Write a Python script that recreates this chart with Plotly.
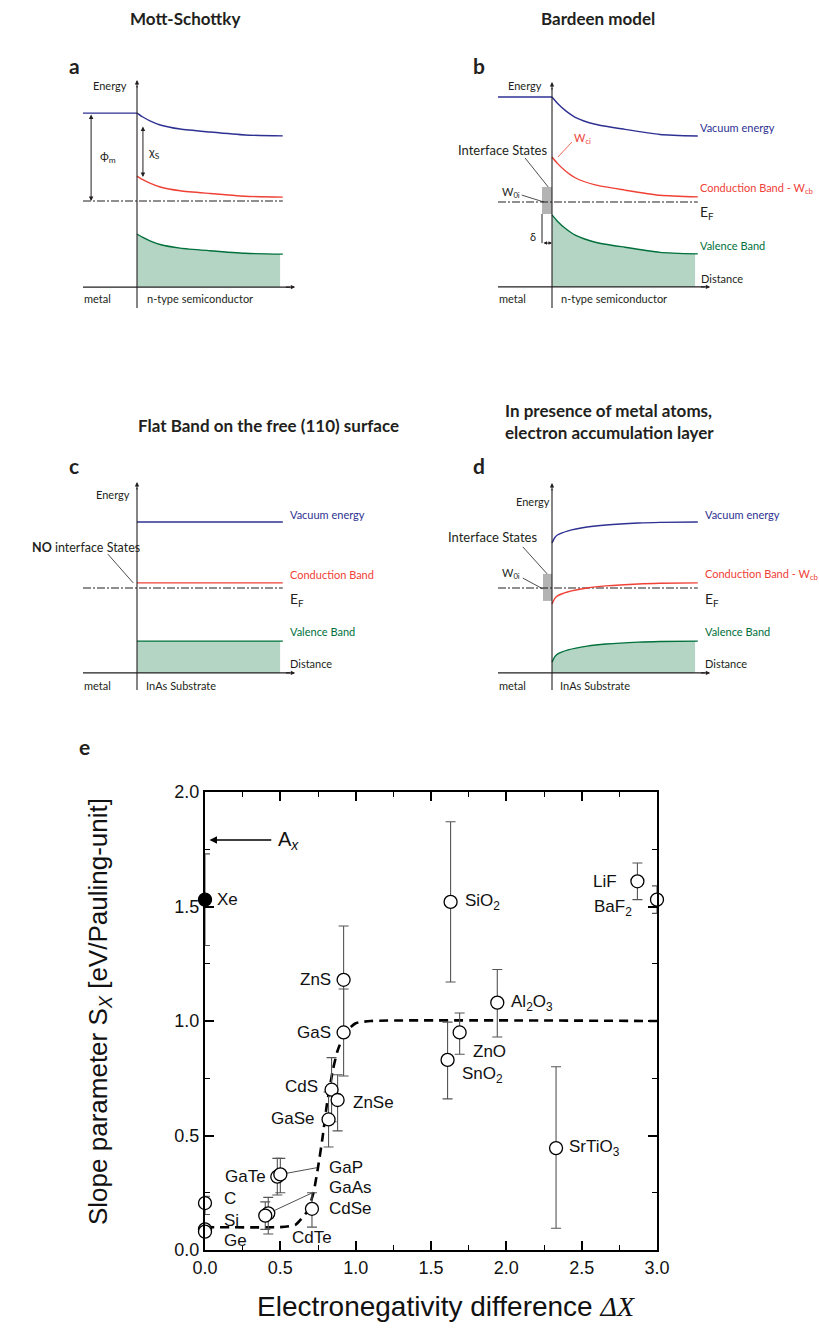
import plotly.graph_objects as go

W, H = 819, 1330

# ---------------- Panel e data ----------------
materials = ["Xe", "C", "Si", "Ge", "GaTe", "GaP", "GaAs", "CdTe", "CdSe", "GaSe", "CdS",
             "ZnSe", "GaS", "ZnS", "SiO2", "SnO2", "ZnO", "Al2O3", "SrTiO3", "LiF", "BaF2"]
delta_x = [0.0, 0.0, 0.0, 0.0, 0.48, 0.50, 0.42, 0.40, 0.71, 0.82, 0.84,
           0.88, 0.92, 0.92, 1.63, 1.61, 1.69, 1.94, 2.33, 2.87, 3.00]
slope_s = [1.53, 0.205, 0.09, 0.08, 0.32, 0.33, 0.16, 0.15, 0.18, 0.57, 0.70,
           0.655, 0.95, 1.18, 1.52, 0.83, 0.95, 1.08, 0.445, 1.61, 1.53]
err_plus = [0.20, 0.03, 0.02, 0.02, 0.08, 0.07, 0.07, 0.06, 0.07, 0.12, 0.14,
            0.11, 0.19, 0.235, 0.35, 0.165, 0.085, 0.145, 0.355, 0.08, 0.06]
err_minus = [0.20, 0.05, 0.02, 0.02, 0.08, 0.08, 0.09, 0.06, 0.08, 0.12, 0.14,
             0.135, 0.19, 0.235, 0.35, 0.17, 0.095, 0.15, 0.35, 0.08, 0.06]
filled = ["Xe"]

theory_x = [0.0, 0.5, 0.6, 0.68, 0.72, 0.75, 0.78, 0.81, 0.85, 0.88, 0.93, 1.0, 1.1, 3.0]
theory_y = [0.10, 0.10, 0.11, 0.17, 0.25, 0.36, 0.49, 0.64, 0.79, 0.87, 0.95, 0.99, 1.0, 1.0]

x_ticks = [0.0, 0.5, 1.0, 1.5, 2.0, 2.5, 3.0]
y_ticks = [0.0, 0.5, 1.0, 1.5, 2.0]
A_x_value = 1.79

# ---------------- Schematic band levels (energy rel. to E_F, arbitrary units) ----------------
# (value at interface, value in bulk)
bands = {
    "a": {"metal": 2.93, "vac": (2.93, 2.17), "cb": (0.83, 0.13), "vb": (-1.10, -1.77)},
    "b": {"metal": 3.50, "vac": (3.50, 2.20), "cb": (1.50, 0.17), "vb": (-0.43, -1.73)},
    "c": {"metal": None, "vac": (2.20, 2.20), "cb": (0.17, 0.17), "vb": (-1.77, -1.77)},
    "d": {"metal": None, "vac": (1.50, 2.20), "cb": (-0.53, 0.17), "vb": (-2.47, -1.77)},
}
# band-bending profile (fraction of bending remaining vs distance) read from the sketches
depl_dist = [0.0, 0.1, 0.25, 0.43, 0.8, 1.35, 2.0, 2.7]
depl_frac = [1.0, 0.84, 0.65, 0.48, 0.30, 0.17, 0.04, 0.0]
accu_dist = [0.0, 0.05, 0.1, 0.3, 0.65, 1.0, 1.6, 2.0, 2.7]
accu_frac = [1.0, 0.75, 0.62, 0.42, 0.24, 0.14, 0.05, 0.02, 0.0]

BLUE = "#2e3192"
RED = "#ef4136"
GREEN = "#00703c"
FILL = "#b4d5c4"
GRAY = "#b3b3b3"
SANS = "Lato"
E_FONT = "Liberation Sans, Arial"

fig = go.Figure()


def paper(px, py):
    return px / W, 1 - py / H


def text(px, py, s, size=11, color="#231f20", xanchor="left", family=SANS, yanchor="middle", angle=0):
    x, y = paper(px, py)
    fig.add_annotation(x=x, y=y, xref="paper", yref="paper", text=s, showarrow=False,
                       xanchor=xanchor, yanchor=yanchor, textangle=angle,
                       font=dict(size=size, color=color, family=family))


# schematic panels: axis number, origin px (interface, E_F), box px
SX, SY = 54.0, 30.0
panels = {
    "a": dict(n=2, ox=137, oy=201, box=(60, 330, 60, 320), prof="depl"),
    "b": dict(n=3, ox=552, oy=202, box=(470, 819, 60, 320), prof="depl"),
    "c": dict(n=4, ox=137, oy=588, box=(60, 330, 470, 700), prof="flat"),
    "d": dict(n=5, ox=552, oy=588, box=(470, 819, 470, 700), prof="accu"),
}
layout_axes = {}
for key, p in panels.items():
    n = p["n"]
    x0, x1, y0, y1 = p["box"]
    layout_axes[f"xaxis{n}"] = dict(domain=[x0 / W, x1 / W], range=[(x0 - p["ox"]) / SX, (x1 - p["ox"]) / SX],
                                    visible=False, anchor=f"y{n}", fixedrange=True)
    layout_axes[f"yaxis{n}"] = dict(domain=[1 - y1 / H, 1 - y0 / H], range=[(p["oy"] - y1) / SY, (p["oy"] - y0) / SY],
                                    visible=False, anchor=f"x{n}", fixedrange=True)


def line(n, xs, ys, color, width=1.4, dash=None, fill=None, fillcolor=None, mode="lines"):
    fig.add_trace(go.Scatter(x=xs, y=ys, mode=mode, xaxis=f"x{n}", yaxis=f"y{n}",
                             line=dict(color=color, width=width, dash=dash, shape="spline", smoothing=0.6),
                             fill=fill, fillcolor=fillcolor,
                             hoverinfo="skip", showlegend=False))


def arrow(n, x, y, ax, ay, side="end", width=1, color="#231f20", head=2, size=1.0):
    fig.add_annotation(x=x, y=y, ax=ax, ay=ay, xref=f"x{n}", yref=f"y{n}", axref=f"x{n}", ayref=f"y{n}",
                       showarrow=True, arrowhead=head, arrowsize=size, arrowwidth=width,
                       arrowcolor=color, arrowside=side, text="")


AXIS_BOTTOM = {"a": -2.87, "b": -2.83, "c": -2.83, "d": -2.83}
AXIS_TOP = {"a": 4.03, "b": 4.0, "c": 3.53, "d": 3.5}
AXIS_LOW = {"a": -3.57, "b": -3.53, "c": -3.4, "d": -3.4}
X_END = 2.7
FILL_END = 2.65
X_ARROW = 2.93

for key, p in panels.items():
    n = p["n"]
    b = bands[key]
    if p["prof"] == "depl":
        dist, frac = depl_dist, depl_frac
    elif p["prof"] == "accu":
        dist, frac = accu_dist, accu_frac
    else:
        dist, frac = [0.0, X_END], [1.0, 1.0]

    def curve(pair):
        s, e = pair
        return [e + (s - e) * f for f in frac]

    vb = curve(b["vb"])
    fill_x = [min(d, FILL_END) for d in dist]
    # valence band fill: bottom edge, then band edge filled to it
    line(n, [0.0, FILL_END], [AXIS_BOTTOM[key]] * 2, "rgba(0,0,0,0)", width=0)
    line(n, fill_x, vb, "rgba(0,0,0,0)", width=0, fill="tonexty", fillcolor=FILL)
    # Fermi level
    line(n, [-1.0, X_END], [0.0, 0.0], "#231f20", width=1.1, dash="8px,2px,2px,2px")
    # bands
    line(n, dist, curve(b["vac"]), BLUE)
    line(n, dist, curve(b["cb"]), RED)
    line(n, dist, vb, GREEN)
    if b["metal"] is not None:
        line(n, [-1.0, 0.0], [b["metal"], b["metal"]], BLUE)
    # axes
    line(n, [0.0, 0.0], [AXIS_LOW[key], AXIS_TOP[key] - 0.2], "#231f20", width=1.1)
    arrow(n, 0.0, AXIS_TOP[key], 0.0, AXIS_TOP[key] - 0.3, width=1.1, size=0.8)
    line(n, [-1.0, X_ARROW - 0.1], [AXIS_BOTTOM[key]] * 2, "#231f20", width=1.1)
    arrow(n, X_ARROW, AXIS_BOTTOM[key], X_ARROW - 0.2, AXIS_BOTTOM[key], width=1.1, size=0.8)

# Interface-state blocks
for key, (xa, xb, ya, yb) in {"b": (-0.185, 0.0, -0.40, 0.50), "d": (-0.167, 0.0, -0.43, 0.47)}.items():
    n = panels[key]["n"]
    fig.add_shape(type="rect", xref=f"x{n}", yref=f"y{n}", x0=xa, x1=xb, y0=ya, y1=yb,
                  fillcolor=GRAY, line=dict(width=0), layer="below")

# panel a arrows: phi_m and chi_s
arrow(2, -0.85, 0.0, -0.85, 2.93, side="end+start", width=1, size=0.9)
arrow(2, 0.11, 0.80, 0.11, 2.53, side="end+start", width=1, size=0.9)
# panel b pointers
line(3, [-0.185, -0.185], [-0.40, -1.37], "#231f20", width=1)
arrow(3, 0.0, -1.37, -0.185, -1.37, side="end+start", width=1, size=0.7)
line(3, [0.11, 0.37], [1.5, 2.0], RED, width=0.8)
line(3, [-0.50, -0.07], [1.47, 0.50], "#231f20", width=0.8)
line(3, [-0.56, -0.15], [0.23, 0.0], "#231f20", width=0.8)
# panel c pointer
line(4, [-0.54, -0.07], [1.13, 0.17], "#231f20", width=0.8)
# panel d pointers
line(5, [-0.54, -0.09], [1.37, 0.47], "#231f20", width=0.8)
line(5, [-0.54, -0.17], [0.33, -0.03], "#231f20", width=0.8)

# ---------------- schematic texts ----------------
text(185, 19, "<b>Mott-Schottky</b>", size=17, xanchor="center")
text(598, 19, "<b>Bardeen model</b>", size=17, xanchor="center")
text(268, 426, "<b>Flat Band on the free (110) surface</b>", size=17, xanchor="center")
text(503, 410, "<b>In presence of metal atoms,</b>", size=17)
text(503, 433, "<b>electron accumulation layer</b>", size=17)
for lab, px, py in [("a", 67, 66), ("b", 471, 66), ("c", 67, 466), ("d", 471, 466), ("e", 77, 746)]:
    text(px, py, f"<b>{lab}</b>", size=21)

# a
text(110, 86, "Energy", size=11, xanchor="center")
text(97, 298, "metal", size=11, xanchor="center")
text(200, 298, "n-type semiconductor", size=11, xanchor="center")
text(98, 157, "ϕ<sub>m</sub>", size=12)
text(146, 153, "χ<sub>S</sub>", size=12)
# b
text(525, 86, "Energy", size=11, xanchor="center")
text(512, 298, "metal", size=11, xanchor="center")
text(614, 298, "n-type semiconductor", size=11, xanchor="center")
text(698, 127, "Vacuum energy", size=11, color=BLUE)
text(698, 188, "Conduction Band - W<sub>cb</sub>", size=11, color=RED)
text(698, 245, "Valence Band", size=11, color=GREEN)
text(699, 278, "Distance", size=11)
text(698, 212, "E<sub>F</sub>", size=14)
text(572, 139, "W<sub>ci</sub>", size=11, color=RED)
text(549, 150, "Interface States", size=13, xanchor="right")
text(500, 193, "W<sub>0i</sub>", size=11)
text(533, 237, "δ", size=11, xanchor="center")
# c
text(113, 494, "Energy", size=11, xanchor="center")
text(97, 685, "metal", size=11, xanchor="center")
text(181, 685, "InAs Substrate", size=11, xanchor="center")
text(288, 514, "Vacuum energy", size=11, color=BLUE)
text(288, 575, "Conduction Band", size=11, color=RED)
text(288, 599, "E<sub>F</sub>", size=14)
text(288, 631, "Valence Band", size=11, color=GREEN)
text(288, 663, "Distance", size=11)
text(142, 547, "<b>NO</b> interface States", size=12.5, xanchor="right")
# d
text(533, 501, "Energy", size=11, xanchor="center")
text(512, 685, "metal", size=11, xanchor="center")
text(595, 685, "InAs Substrate", size=11, xanchor="center")
text(703, 514, "Vacuum energy", size=11, color=BLUE)
text(703, 575, "Conduction Band - W<sub>cb</sub>", size=11, color=RED)
text(703, 599, "E<sub>F</sub>", size=14)
text(703, 631, "Valence Band", size=11, color=GREEN)
text(703, 663, "Distance", size=11)
text(539, 537, "Interface States", size=13, xanchor="right")
text(500, 573, "W<sub>0i</sub>", size=11)

# ---------------- Panel e ----------------
fig.add_trace(go.Scatter(x=theory_x, y=theory_y, mode="lines", xaxis="x", yaxis="y",
                         line=dict(color="black", width=2.6, dash="9px,6px", shape="spline", smoothing=0.5),
                         hoverinfo="skip", showlegend=False, cliponaxis=False))
fig.add_trace(go.Scatter(
    x=delta_x, y=slope_s, mode="markers", xaxis="x", yaxis="y", cliponaxis=False,
    error_y=dict(type="data", symmetric=False, array=err_plus, arrayminus=err_minus,
                 color="#555555", thickness=1.1, width=5),
    marker=dict(size=13, symbol="circle",
                color=["black" if m in filled else "white" for m in materials],
                line=dict(color="black", width=1.3)),
    hovertext=materials, showlegend=False))

idx = {m: i for i, m in enumerate(materials)}


def plabel(m, s, dx, dy, xanchor="left"):
    i = idx[m]
    fig.add_annotation(x=delta_x[i], y=slope_s[i], xref="x", yref="y", text=s, xanchor=xanchor,
                       yanchor="middle", showarrow=False, xshift=dx, yshift=dy,
                       font=dict(size=17, family=E_FONT, color="#111"))


def leader(m, ax, ay):
    i = idx[m]
    fig.add_annotation(x=delta_x[i], y=slope_s[i], xref="x", yref="y", text="", showarrow=True,
                       arrowhead=0, arrowwidth=0.8, arrowcolor="#222", ax=ax, ay=ay, standoff=6)


plabel("Xe", "Xe", 10, 0)
plabel("C", "C", 17, 5)
plabel("Si", "Si", 17, 9)
plabel("Ge", "Ge", 17, -9)
plabel("GaTe", "GaTe", -9, 0, xanchor="right")
plabel("GaSe", "GaSe", -13, 1, xanchor="right")
plabel("CdS", "CdS", -12, 3, xanchor="right")
plabel("ZnSe", "ZnSe", 13, -2)
plabel("GaS", "GaS", -11, 0, xanchor="right")
plabel("ZnS", "ZnS", -11, 0, xanchor="right")
plabel("CdSe", "CdSe", 15, 0)
plabel("CdTe", "CdTe", 25, -22)
plabel("SiO2", "SiO<sub>2</sub>", 12, 0)
plabel("SnO2", "SnO<sub>2</sub>", 12, -15)
plabel("ZnO", "ZnO", 11, -19)
plabel("Al2O3", "Al<sub>2</sub>O<sub>3</sub>", 12, 0)
plabel("SrTiO3", "SrTiO<sub>3</sub>", 11, 0)
plabel("LiF", "LiF", -46, 0)
plabel("BaF2", "BaF<sub>2</sub>", -65, -8)
plabel("GaP", "GaP", 47, 7)
plabel("GaAs", "GaAs", 59, 26)
leader("GaP", 38, -7)
leader("GaAs", 45, -21)

# A_x arrow
fig.add_annotation(x=0.03, y=A_x_value, ax=0.45, ay=A_x_value, xref="x", yref="y", axref="x", ayref="y",
                   showarrow=True, arrowhead=2, arrowsize=1.0, arrowwidth=1.5, arrowcolor="black", text="")
fig.add_annotation(x=0.47, y=A_x_value, xref="x", yref="y", xanchor="left", yanchor="middle", showarrow=False,
                   text="A<sub><i>x</i></sub>", font=dict(size=20, family=E_FONT, color="#111"))

# axis titles
text(446, 1306, 'Electronegativity difference <span style="font-family:Liberation Serif"><i>ΔX</i></span>',
     size=28, xanchor="center", family=E_FONT, color="#111")
text(99, 1012, 'Slope parameter S<sub><i>X</i></sub> [eV/Pauling-unit]', size=26, xanchor="center",
     family=E_FONT, color="#111", angle=-90)

axis_common = dict(ticks="inside", ticklen=9, tickwidth=1.5, tickcolor="black", showline=True, linewidth=2,
                   linecolor="black", mirror="allticks", showgrid=False, zeroline=False,
                   minor=dict(dtick=0.25, tick0=0, ticks="inside", ticklen=5, tickwidth=1.2, tickcolor="black"),
                   tickfont=dict(size=18, family=E_FONT, color="#111"), fixedrange=True)

fig.update_layout(
    width=W, height=H, autosize=False, margin=dict(l=0, r=0, t=0, b=0, pad=0, autoexpand=False),
    paper_bgcolor="white", plot_bgcolor="white", showlegend=False,
    xaxis=dict(domain=[205 / W, 657 / W], range=[0, 3], tickvals=x_ticks,
               ticktext=[f"{v:.1f}" for v in x_ticks], anchor="y", **axis_common),
    yaxis=dict(domain=[1 - 1250 / H, 1 - 792 / H], range=[0, 2], tickvals=y_ticks,
               ticktext=[f"{v:.1f}" for v in y_ticks], anchor="x", **axis_common),
    **layout_axes,
)

fig.write_html("out.html")
